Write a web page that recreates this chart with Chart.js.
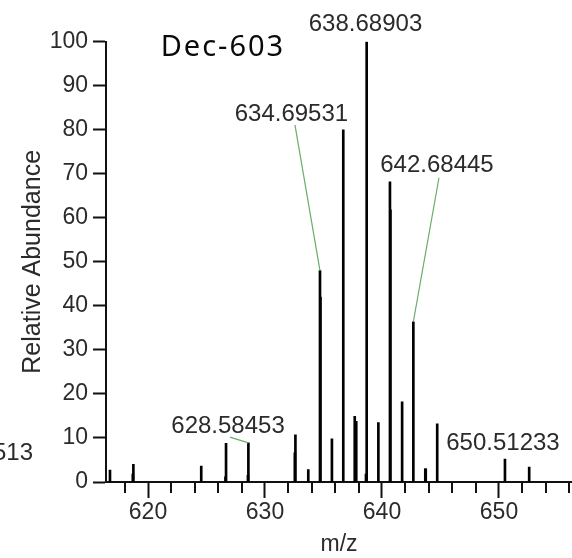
<!DOCTYPE html>
<html><head><meta charset="utf-8">
<script src="https://cdn.jsdelivr.net/npm/chart.js@4/dist/chart.umd.min.js"></script>
<style>html,body{margin:0;padding:0;background:#fff;overflow:hidden}#wrap{width:572px;height:558px}</style>
</head><body><div id="wrap"><canvas id="c" width="572" height="558"></canvas></div>
<script>
// ---- data ----
const peakMz    = [616.75, 618.70, 618.75, 624.55, 626.62, 626.67, 628.54, 628.58, 632.55, 632.60, 633.70, 634.70, 634.74, 635.72, 636.69, 637.67, 637.80, 638.63, 638.69, 639.69, 640.68, 640.72, 641.72, 642.68, 643.70, 643.74, 644.72, 650.51, 652.58];
const peakAbund = [2.7,    1.8,    4.0,    3.6,    1.2,    8.8,    1.5,    8.9,    6.6,    10.7,   2.8,    48.0,   42.0,   9.8,    80.0,   14.9,   13.8,   1.8,    100.0,  13.5,   68.2,   61.8,   18.2,   36.4,   3.0,    3.0,    13.2,   5.2,    3.4];
const xTickValues = [618, 620, 622, 624, 626, 628, 630, 632, 634, 636, 638, 640, 642, 644, 646, 648, 650, 652, 654, 656];
const xTickLabels = ['', '620', '', '', '', '', '630', '', '', '', '', '640', '', '', '', '', '650', '', '', ''];
const yTickValues = [0, 10, 20, 30, 40, 50, 60, 70, 80, 90, 100];
const annotationTexts = ['638.68903', '634.69531', '642.68445', '628.58453', '650.51233'];
const annotationMz    = [638.69, 634.70, 642.68, 628.58, 650.51];
const annotationAbund = [100.0, 48.0, 36.4, 8.9, 5.2];
const chartLabel = 'Dec-603';
const cutLabel = '513';

// ---- layout of annotation labels (data units), not data ----
const annLayout = [
  {lx: 638.59, ly: 104.0, line: false},
  {lx: 632.26, ly: 83.6, line: true, sx: 632.56, sy: 81.1},
  {lx: 644.70, ly: 72.0, line: true, sx: 644.87, sy: 69.1},
  {lx: 626.84, ly: 12.6, line: true, sx: 627.01, sy: 10.2},
  {lx: 650.34, ly: 8.7, line: false}
];

const TXT = '#2b2b2b';
const annotPlugin = {
  id: 'annot',
  afterDraw(chart) {
    const ctx = chart.ctx, xs = chart.scales.x, ys = chart.scales.y;
    ctx.save();
    // minor x ticks
    ctx.strokeStyle = '#111'; ctx.lineWidth = 2;
    xTickValues.forEach((v, i) => {
      if (xTickLabels[i] === '') {
        const px = Math.round(xs.getPixelForValue(v));
        ctx.beginPath(); ctx.moveTo(px, xs.top); ctx.lineTo(px, xs.top + 11); ctx.stroke();
      }
    });
    // leader lines
    ctx.strokeStyle = '#69ad69'; ctx.lineWidth = 1.2;
    annotationTexts.forEach((t, i) => {
      const L = annLayout[i];
      if (L.line) {
        ctx.beginPath();
        ctx.moveTo(xs.getPixelForValue(L.sx), ys.getPixelForValue(L.sy));
        ctx.lineTo(xs.getPixelForValue(annotationMz[i]), ys.getPixelForValue(annotationAbund[i]));
        ctx.stroke();
      }
    });
    // labels
    ctx.fillStyle = TXT;
    ctx.font = '24px "Liberation Sans", Arial, sans-serif';
    ctx.textAlign = 'center'; ctx.textBaseline = 'middle';
    annotationTexts.forEach((t, i) => {
      const L = annLayout[i];
      ctx.fillText(t, xs.getPixelForValue(L.lx), ys.getPixelForValue(L.ly));
    });
    // cut-off label from neighbouring panel
    ctx.textAlign = 'right';
    ctx.fillText(cutLabel, 33, 453);
    // panel title
    ctx.fillStyle = '#0a0a0a';
    ctx.font = '29px "Noto Sans", sans-serif';
    ctx.letterSpacing = '2px';
    ctx.textAlign = 'left';
    ctx.fillText(chartLabel, xs.getPixelForValue(621.08), ys.getPixelForValue(98.6));
    ctx.restore();
  }
};

new Chart(document.getElementById('c'), {
  type: 'bar',
  data: {
    datasets: [{
      data: peakMz.map((m, i) => ({x: m, y: peakAbund[i]})),
      backgroundColor: '#000',
      borderWidth: 0,
      barThickness: 2,
      grouped: false
    }]
  },
  options: {
    responsive: false,
    animation: false,
    devicePixelRatio: 1,
    layout: {padding: {top: 41.7, right: 0, left: 0, bottom: 0}},
    plugins: {legend: {display: false}, tooltip: {enabled: false}},
    scales: {
      x: {
        type: 'linear', min: 616.41, max: 656.24, offset: false,
        afterBuildTicks: s => { s.ticks = xTickValues.map(v => ({value: v})); },
        afterFit: s => { s.height = 76; },
        grid: {offset: false, drawOnChartArea: false, drawTicks: true, tickLength: 16, tickWidth: 2,
               tickColor: c => (c.tick && xTickLabels[xTickValues.indexOf(c.tick.value)] !== '') ? '#111' : 'rgba(0,0,0,0)'},
        border: {display: true, color: '#111', width: 2},
        ticks: {autoSkip: false, maxRotation: 0, padding: 1, color: TXT,
                font: {family: '"Liberation Sans", Arial, sans-serif', size: 23},
                callback: (v) => { const k = xTickValues.indexOf(v); return k >= 0 ? xTickLabels[k] : ''; }},
        title: {display: true, text: 'm/z', color: TXT, padding: 0,
                font: {family: '"Liberation Sans", Arial, sans-serif', size: 23}}
      },
      y: {
        min: 0, max: 100,
        afterBuildTicks: s => { s.ticks = yTickValues.map(v => ({value: v})); },
        afterFit: s => { s.width = 106; },
        grid: {drawOnChartArea: false, drawTicks: true, tickLength: 13, tickWidth: 2, tickColor: '#111'},
        border: {display: true, color: '#111', width: 2},
        ticks: {padding: 5, color: TXT, font: {family: '"Liberation Sans", Arial, sans-serif', size: 23}},
        title: {display: true, text: 'Relative Abundance', color: TXT, padding: {top: 18, bottom: 0},
                font: {family: '"Liberation Sans", Arial, sans-serif', size: 25}}
      }
    }
  },
  plugins: [annotPlugin]
});
</script></body></html>
